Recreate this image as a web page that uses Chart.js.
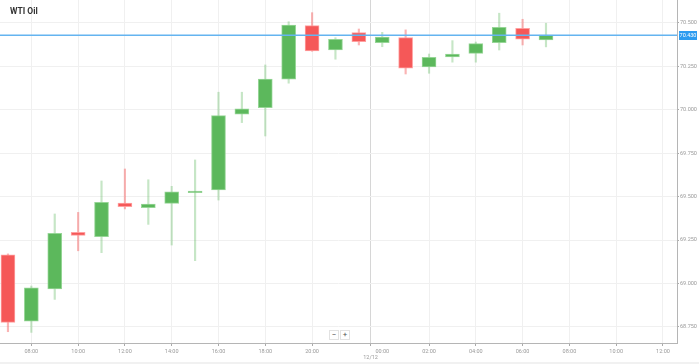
<!DOCTYPE html>
<html>
<head>
<meta charset="utf-8">
<script src="https://cdn.jsdelivr.net/npm/chart.js@4.4.0/dist/chart.umd.min.js"></script>
<style>
  body { margin: 0; background: #f1f1f1; font-family: Roboto, sans-serif; }
  #wrap { position: relative; width: 699px; height: 362px; background: #fff; }
  #title { position: absolute; left: 10px; top: 6px; font-size: 8.5px; font-weight: bold; color: #333; }
  .zbtn { position: absolute; top: 330px; width: 8px; height: 8px; background: #fff; border: 1px solid #e2e2e2;
          font-size: 8px; line-height: 8px; text-align: center; color: #555; }
</style>
</head>
<body>
<div id="wrap">
  <canvas id="myChart" width="699" height="362"></canvas>
  <div id="title">WTI Oil</div>
  <div class="zbtn" style="left:329px">&minus;</div>
  <div class="zbtn" style="left:340px">+</div>
</div>
<script>
// hourly slots (no 23:00 - market break)
var slots = ['07:00','08:00','09:00','10:00','11:00','12:00','13:00','14:00','15:00','16:00','17:00','18:00','19:00','20:00','21:00','22:00',
             '00:00','01:00','02:00','03:00','04:00','05:00','06:00','07:00','08:00','09:00','10:00','11:00','12:00'];
var opens  = [69.164, 68.782, 68.968, 69.294, 69.269, 69.463, 69.436, 69.461, 69.522, 69.538, 69.974, 70.012, 70.176, 70.484, 70.344, 70.444,
              70.387, 70.415, 70.247, 70.304, 70.325, 70.387, 70.469, 70.402];
var highs  = [69.170, 68.985, 69.400, 69.409, 69.590, 69.659, 69.597, 69.559, 69.711, 70.101, 70.101, 70.258, 70.507, 70.559, 70.415, 70.465,
              70.446, 70.460, 70.321, 70.398, 70.390, 70.556, 70.521, 70.498];
var lows   = [68.722, 68.718, 68.908, 69.188, 69.177, 69.429, 69.340, 69.221, 69.131, 69.480, 69.926, 69.849, 70.153, 70.337, 70.291, 70.373,
              70.363, 70.206, 70.210, 70.274, 70.274, 70.344, 70.373, 70.362];
var closes = [68.776, 68.974, 69.289, 69.277, 69.467, 69.442, 69.457, 69.528, 69.532, 69.966, 70.006, 70.177, 70.488, 70.339, 70.406, 70.392,
              70.419, 70.239, 70.302, 70.320, 70.381, 70.475, 70.406, 70.430];
// axis ticks
var xTickIdx = [1, 3, 5, 7, 9, 11, 13, 16, 18, 20, 22, 24, 26, 28];
var dayBreak = 15.5;
var dayLabel = '12/12';
var yTicks = [68.75, 69.0, 69.25, 69.5, 69.75, 70.0, 70.25, 70.5];

var green = 'rgb(92, 184, 92)';
var red = 'rgb(245, 88, 88)';

var bodies = [], wicks = [], bodyCol = [], wickCol = [], edgeCol = [];
for (i = 0; i < opens.length; i++) {
    bodies.push({x: i, y: [opens[i], closes[i]]});
    wicks.push({x: i, y: [lows[i], highs[i]]});
    var up = closes[i] >= opens[i];
    bodyCol.push(up ? green : red);
    edgeCol.push(up ? 'rgba(140, 210, 140, 0.9)' : 'rgba(255, 150, 150, 0.9)');
    wickCol.push(up ? 'rgba(92, 184, 92, 0.35)' : 'rgba(245, 88, 88, 0.45)');
}

var lastPrice = closes[closes.length - 1];

// current price line + label on the right axis
var pricePlugin = {
    id: 'price',
    afterDatasetsDraw: function(chart) {
        var ctx = chart.ctx, area = chart.chartArea;
        var y = Math.round(chart.scales.y.getPixelForValue(lastPrice));
        ctx.save();
        ctx.globalAlpha = 1;
        ctx.fillStyle = 'rgb(100, 180, 240)';
        ctx.fillRect(area.left, y - 0.5, area.right - area.left, 1.5);
        ctx.fillStyle = '#2d9cf0';
        ctx.fillRect(area.right + 2, y - 4, 18, 9);
        ctx.fillStyle = '#fff';
        ctx.font = '5.5px Roboto';
        ctx.textAlign = 'center';
        ctx.textBaseline = 'middle';
        ctx.fillText(lastPrice.toFixed(3), area.right + 11, y + 0.5);
        ctx.restore();
    }
};

const chart = new Chart(document.getElementById('myChart'), {
    type: 'bar',
    data: {
        datasets: [{
            data: bodies,
            backgroundColor: bodyCol,
            borderColor: edgeCol,
            borderWidth: 1,
            borderSkipped: false,
            barThickness: 14,
            grouped: false,
            order: 1
        }, {
            data: wicks,
            backgroundColor: wickCol,
            borderWidth: 0,
            barThickness: 1.5,
            grouped: false,
            order: 2
        }]
    },
    options: {
        responsive: false,
        animation: false,
        layout: { padding: 0 },
        plugins: {
            legend: { display: false },
            tooltip: { enabled: false }
        },
        scales: {
            x: {
                type: 'linear',
                offset: false,
                min: -0.34,
                max: 28.6,
                afterBuildTicks: function(axis) {
                    var t = xTickIdx.map(function(v) { return {value: v}; });
                    t.splice(7, 0, {value: dayBreak});
                    axis.ticks = t;
                },
                afterFit: function(axis) {
                    axis.height = 19;
                    axis.paddingLeft = 0;
                    axis.paddingRight = 0;
                },
                ticks: {
                    autoSkip: false,
                    maxRotation: 0,
                    padding: 2,
                    color: '#999',
                    font: { family: 'Roboto', size: 5.5 },
                    callback: function(v) {
                        if (v === dayBreak) return ['', dayLabel];
                        return slots[v];
                    }
                },
                grid: {
                    offset: false,
                    tickLength: 3,
                    color: function(c) {
                        if (c.tick && c.tick.value === dayBreak) return '#d6d6d6';
                        if (c.tick && c.tick.value === 16) return 'rgba(0,0,0,0)';
                        return '#f0f0f0';
                    },
                    tickColor: function(c) {
                        if (c.tick && c.tick.value === 16) return 'rgba(0,0,0,0)';
                        return '#aaa';
                    }
                },
                border: { display: true, color: '#b5b5b5' }
            },
            y: {
                position: 'right',
                min: 68.657,
                max: 70.632,
                afterBuildTicks: function(axis) {
                    axis.ticks = yTicks.map(function(v) { return {value: v}; });
                },
                afterFit: function(axis) {
                    axis.width = 22;
                    axis.paddingTop = 0;
                    axis.paddingBottom = 0;
                },
                ticks: {
                    padding: 1,
                    color: '#999',
                    font: { family: 'Roboto', size: 5.5 },
                    callback: function(v) { return v.toFixed(3); }
                },
                grid: {
                    tickLength: 2,
                    color: '#f0f0f0',
                    tickColor: '#aaa'
                },
                border: { display: true, color: '#b5b5b5' }
            }
        }
    },
    plugins: [pricePlugin]
});
</script>
</body>
</html>
